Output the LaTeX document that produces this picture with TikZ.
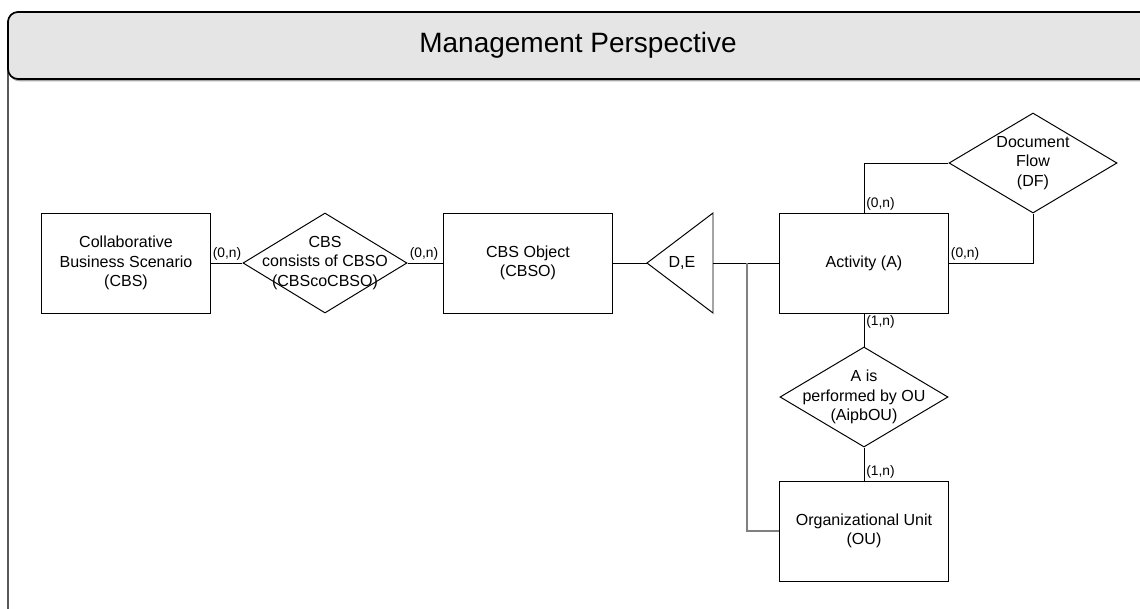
\documentclass[tikz,border=0pt]{standalone}
\usepackage{fontspec}
\setmainfont{Liberation Sans}
\usetikzlibrary{shapes.geometric}

\tikzset{
  entity/.style={draw, line width=0.7pt, minimum width=4.2cm, minimum height=2.5cm,
    inner sep=0pt, align=center, font=\fontsize{11.4}{13.9}\selectfont},
  relship/.style={draw, diamond, line width=0.7pt, minimum width=#1, minimum height=2.5cm,
    inner sep=0pt},
  reltext/.style={align=center, font=\fontsize{11.4}{13.9}\selectfont},
  card/.style={font=\fontsize{9.8}{11}\selectfont, inner sep=1.5pt},
  link/.style={line width=0.7pt},
}

\begin{document}
\begin{tikzpicture}[x=0.025cm, y=-0.025cm]
  \useasboundingbox (0,0) rectangle (1140,608);
  \clip (0,0) rectangle (1140,608);
  % frame and header
  \draw[line width=0.9pt, rounded corners=0.25cm] (8,12) rectangle (1170,640);
  \draw[gray!70, line width=1.2pt, rounded corners=0.25cm] (9.5,13.5) rectangle (1171.5,80.5);
  \draw[line width=1.2pt, fill=gray!20, rounded corners=0.25cm] (8,12) rectangle (1170,79);
  \node[font=\fontsize{19.9}{24}\selectfont] (title) at (578,45) {Management Perspective};
  % entities
  \node[entity] (cbs) at (126,263) {Collaborative\\Business Scenario\\(CBS)};
  \node[entity] (cbso) at (528,263) {CBS Object\\(CBSO)};
  \node[entity] (act) at (864,263) {Activity (A)};
  \node[entity] (ou) at (864,531) {Organizational Unit\\(OU)};
  % relationships
  \node[relship=4.1cm, label={[reltext]center:{CBS\\consists of CBSO\\(CBScoCBSO)}}] (cbscocbso) at (325,263) {};
  \node[relship=4.2cm, label={[reltext]center:{Document\\Flow\\(DF)}}] (df) at (1033,163) {};
  \node[relship=4.2cm, label={[reltext]center:{A is\\performed by OU\\(AipbOU)}}] (aipbou) at (864,397) {};
  % specialization
  \draw[link] (713,213) -- (647,263) -- (713,313) -- cycle;
  \coordinate (spec-in) at (647,263);
  \coordinate (spec-out) at (713,263);
  \coordinate (spec-split) at (747,263);
  \node[reltext] (de) at (682,263) {D,E};
  % connectors
  \draw[link] (cbs.east) -- (cbscocbso.west);
  \draw[link] (cbscocbso.east) -- (cbso.west);
  \draw[link] (cbso.east) -- (spec-in);
  \draw[link] (spec-out) -- (act.west);
  \draw[gray, line width=1.3pt] (spec-split) |- (ou.west);
  \draw[link] (act.north) |- (df.west);
  \draw[link] (act.east) -| (df.south);
  \draw[link] (act.south) -- (aipbou.north);
  \draw[link] (aipbou.south) -- (ou.north);
  % cardinalities
  \node[card, anchor=south west] (c1) at (cbs.east) {(0,n)};
  \node[card, anchor=south west] (c2) at (cbscocbso.east) {(0,n)};
  \node[card, anchor=south west] (c3) at (act.north) {(0,n)};
  \node[card, anchor=south west] (c4) at (act.east) {(0,n)};
  \node[card, anchor=north west] (c5) at (act.south) {(1,n)};
  \node[card, anchor=south west] (c6) at (ou.north) {(1,n)};
\end{tikzpicture}
\end{document}
